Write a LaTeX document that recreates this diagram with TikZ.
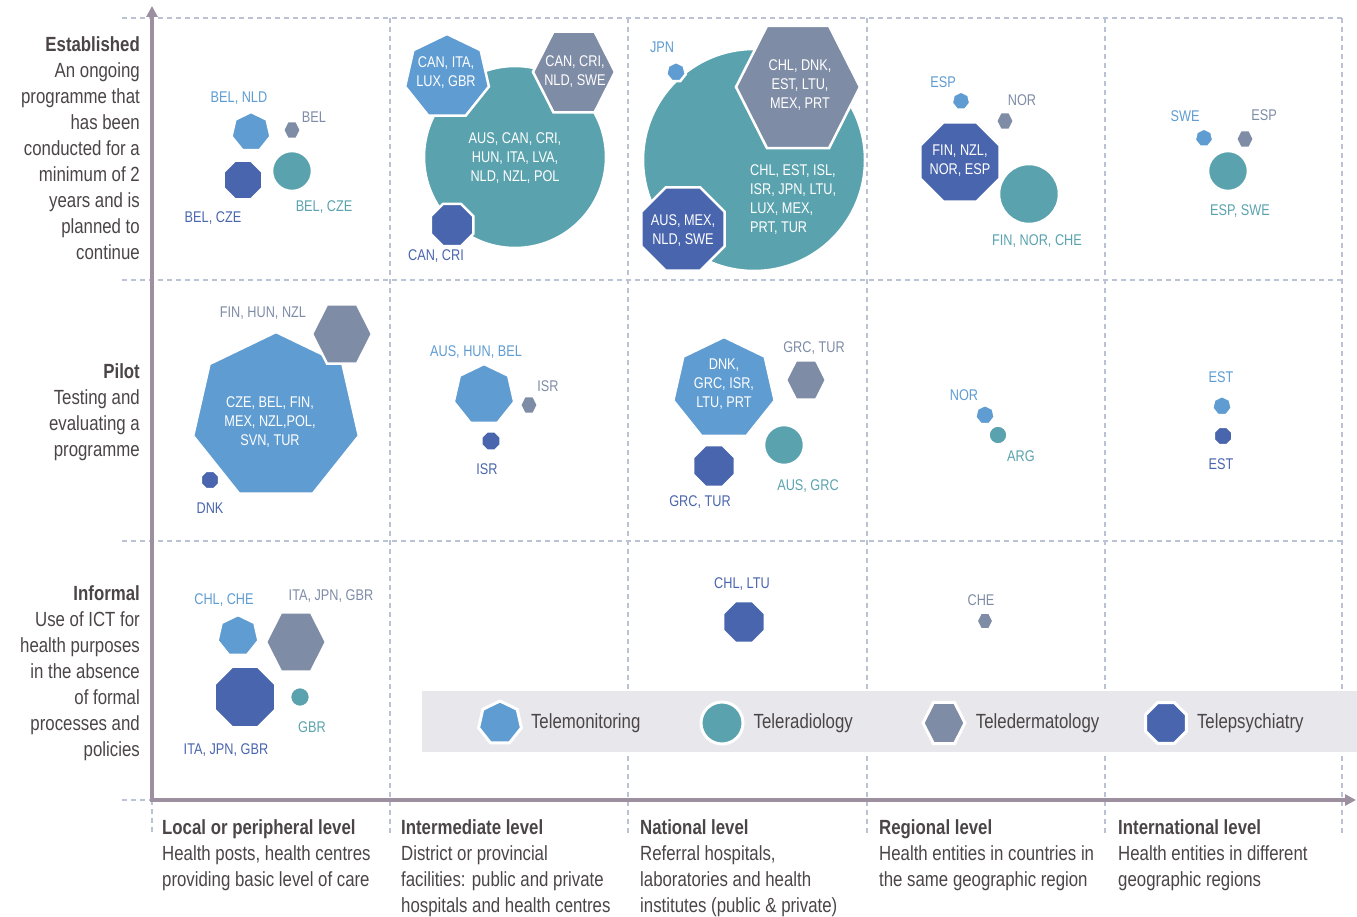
\documentclass[tikz,border=0pt]{standalone}
\usepackage{fontspec}
\setmainfont{Liberation Sans}[FakeStretch=0.82]
\usetikzlibrary{shapes.geometric,arrows.meta,positioning}

\definecolor{moncol}{HTML}{5F9CD2}
\definecolor{radcol}{HTML}{5AA3AE}
\definecolor{dercol}{HTML}{7F8CA6}
\definecolor{psycol}{HTML}{4965AE}
\definecolor{axiscol}{HTML}{9C8FA0}
\definecolor{gridcol}{HTML}{BBC2D4}
\definecolor{txtcol}{HTML}{4B4548}
\definecolor{legbg}{HTML}{E8E7EB}

\newcommand{\ctyfont}{\fontsize{15.5}{19}\selectfont}
\newcommand{\descfont}{\fontsize{20.5}{26}\selectfont}

\tikzset{
  shp/.style = {draw=white, line width=2.5pt, inner sep=0pt},
  mon/.style = {shp, regular polygon, regular polygon sides=7, fill=moncol},
  rad/.style = {shp, circle, fill=radcol},
  der/.style = {shp, regular polygon, regular polygon sides=6, fill=dercol, yscale=1.14, transform shape},
  psy/.style = {shp, regular polygon, regular polygon sides=8, fill=psycol},
  lab/.style = {font=\ctyfont, inner sep=0pt},
  inner/.style = {font=\ctyfont, text=white, align=center, inner sep=0pt},
  grid/.style = {draw=gridcol, line width=1.2pt, dash pattern=on 5pt off 4pt},
  axis/.style = {draw=axiscol, line width=3.5pt,
    {Triangle[length=11pt,width=11pt]}-{Triangle[length=11pt,width=11pt]}},
  rowtxt/.style = {font=\descfont, text=txtcol, align=right, anchor=north east, inner sep=0pt},
  coltxt/.style = {font=\descfont, text=txtcol, align=left, anchor=north west, inner sep=0pt},
  legtxt/.style = {font=\descfont, text=txtcol, inner sep=0pt}
}

\begin{document}
\begin{tikzpicture}[x=1pt, y=-1pt]
\useasboundingbox (0,0) rectangle (1357,917);

% dashed grid
\draw[grid] (122,18) -- (1342,18);
\draw[grid] (122,280) -- (1342,280);
\draw[grid] (122,541) -- (1342,541);
\draw[grid] (122,800) -- (152,800);
\draw[grid] (152,800) -- (152,835);
\draw[grid] (390,18) -- (390,835);
\draw[grid] (628,18) -- (628,835);
\draw[grid] (867,18) -- (867,835);
\draw[grid] (1105,18) -- (1105,835);
\draw[grid] (1342,18) -- (1342,835);

% axes
\coordinate (org) at (152,800);
\coordinate (ytop) at (152,6);
\coordinate (xend) at (1356,800);
\draw[axis] (ytop) -- (org) -- (xend);

% row descriptions
\node[rowtxt] (r1) at (140,36.5) {\textbf{Established}\\An ongoing\\programme that\\has been\\conducted for a\\minimum of 2\\years and is\\planned to\\continue};
\node[rowtxt] (r2) at (140,363.5) {\textbf{Pilot}\\Testing and\\evaluating a\\programme};
\node[rowtxt] (r3) at (140,585.5) {\textbf{Informal}\\Use of ICT for\\health purposes\\in the absence\\of formal\\processes and\\policies};

% column descriptions
\node[coltxt] (c1) at (162,819.5) {\textbf{Local or peripheral level}\\Health posts, health centres\\providing basic level of care};
\node[coltxt] (c2) at (401,819.5) {\textbf{Intermediate level}\\District or provincial\\facilities: public and private\\hospitals and health centres};
\node[coltxt] (c3) at (640,819.5) {\textbf{National level}\\Referral hospitals,\\laboratories and health\\institutes (public \& private)};
\node[coltxt] (c4) at (879,819.5) {\textbf{Regional level}\\Health entities in countries in\\the same geographic region};
\node[coltxt] (c5) at (1118,819.5) {\textbf{International level}\\Health entities in different\\geographic regions};

% established
\node[rad, minimum size=40] (e1r) at (292,171) {};
\node[mon, minimum size=40] (e1m) at (251,132) {};
\node[der, minimum size=18] (e1d) at (292,130) {};
\node[psy, minimum size=42] (e1p) at (243,180) {};
\node[lab, text=moncol] (e1m-t) at (239,98) {BEL, NLD};
\node[lab, text=dercol] (e1d-t) at (314,117) {BEL};
\node[lab, text=psycol] (e1p-t) at (213,218) {BEL, CZE};
\node[lab, text=radcol] (e1r-t) at (324,207) {BEL, CZE};

\node[rad, minimum size=182] (e2r) at (515,157) {};
\node[mon, minimum size=86] (e2m) at (447,77) {};
\node[der, minimum size=82] (e2d) at (574,72) {};
\node[psy, minimum size=46] (e2p) at (452,225) {};
\node[inner] (e2r-t) at (515,158) {AUS, CAN, CRI,\\HUN, ITA, LVA,\\NLD, NZL, POL};
\node[inner] (e2m-t) at (446,73) {CAN, ITA,\\LUX, GBR};
\node[inner] (e2d-t) at (575,72) {CAN, CRI,\\NLD, SWE};
\node[lab, text=psycol] (e2p-t) at (436,256) {CAN, CRI};

\node[rad, minimum size=222] (e3r) at (754,160) {};
\node[der, minimum size=124] (e3d) at (798,87) {};
\node[psy, minimum size=90] (e3p) at (683,229) {};
\node[mon, minimum size=20] (e3m) at (676,72) {};
\node[inner, align=left, anchor=west] (e3r-t) at (750,200) {CHL, EST, ISL,\\ISR, JPN, LTU,\\LUX, MEX,\\PRT, TUR};
\node[inner] (e3d-t) at (800,85) {CHL, DNK,\\EST, LTU,\\MEX, PRT};
\node[inner] (e3p-t) at (683,231) {AUS, MEX,\\NLD, SWE};
\node[lab, text=moncol] (e3m-t) at (662,47) {JPN};

\node[rad, minimum size=60] (e4r) at (1029,194) {};
\node[psy, minimum size=86] (e4p) at (960,162) {};
\node[mon, minimum size=19] (e4m) at (961,101) {};
\node[der, minimum size=18] (e4d) at (1005,121) {};
\node[inner] (e4p-t) at (960,161) {FIN, NZL,\\NOR, ESP};
\node[lab, text=moncol] (e4m-t) at (943,82) {ESP};
\node[lab, text=dercol] (e4d-t) at (1022,100) {NOR};
\node[lab, text=radcol] (e4r-t) at (1037,241) {FIN, NOR, CHE};

\node[rad, minimum size=40] (e5r) at (1228,171) {};
\node[mon, minimum size=19] (e5m) at (1204,138) {};
\node[der, minimum size=18] (e5d) at (1245,139) {};
\node[lab, text=moncol] (e5m-t) at (1185,116) {SWE};
\node[lab, text=dercol] (e5d-t) at (1264,115) {ESP};
\node[lab, text=radcol] (e5r-t) at (1240,211) {ESP, SWE};

% pilot
\node[mon, minimum size=170] (p1m) at (276,417) {};
\node[der, minimum size=60] (p1d) at (342,334) {};
\node[psy, minimum size=20] (p1p) at (210,480) {};
\node[inner] (p1m-t) at (270,422) {CZE, BEL, FIN,\\MEX, NZL,POL,\\SVN, TUR};
\node[lab, text=dercol] (p1d-t) at (263,313) {FIN, HUN, NZL};
\node[lab, text=psycol] (p1p-t) at (210,508) {DNK};

\node[mon, minimum size=62] (p2m) at (484,395) {};
\node[der, minimum size=18] (p2d) at (529,405) {};
\node[psy, minimum size=21] (p2p) at (491,441) {};
\node[lab, text=moncol] (p2m-t) at (476,352) {AUS, HUN, BEL};
\node[lab, text=dercol] (p2d-t) at (548,386) {ISR};
\node[lab, text=psycol] (p2p-t) at (487,469) {ISR};

\node[mon, minimum size=104] (p3m) at (724,389) {};
\node[der, minimum size=40] (p3d) at (806,380) {};
\node[rad, minimum size=40] (p3r) at (784,445) {};
\node[psy, minimum size=45] (p3p) at (714,466) {};
\node[inner] (p3m-t) at (724,384) {DNK,\\GRC, ISR,\\LTU, PRT};
\node[lab, text=dercol] (p3d-t) at (814,348) {GRC, TUR};
\node[lab, text=radcol] (p3r-t) at (808,486) {AUS, GRC};
\node[lab, text=psycol] (p3p-t) at (700,502) {GRC, TUR};

\node[mon, minimum size=20] (p4m) at (985,415) {};
\node[rad, minimum size=19] (p4r) at (998,435) {};
\node[lab, text=moncol] (p4m-t) at (964,395) {NOR};
\node[lab, text=radcol] (p4r-t) at (1021,456) {ARG};

\node[mon, minimum size=20] (p5m) at (1222,406) {};
\node[psy, minimum size=20] (p5p) at (1223,436) {};
\node[lab, text=moncol] (p5m-t) at (1221,377) {EST};
\node[lab, text=psycol] (p5p-t) at (1221,464) {EST};

% informal
\node[mon, minimum size=42] (i1m) at (238,636) {};
\node[der, minimum size=60] (i1d) at (296,642) {};
\node[psy, minimum size=66] (i1p) at (245,697) {};
\node[rad, minimum size=20] (i1r) at (300,697) {};
\node[lab, text=moncol] (i1m-t) at (224,600) {CHL, CHE};
\node[lab, text=dercol] (i1d-t) at (331,596) {ITA, JPN, GBR};
\node[lab, text=radcol] (i1r-t) at (312,727) {GBR};
\node[lab, text=psycol] (i1p-t) at (226,750) {ITA, JPN, GBR};

\node[psy, minimum size=45] (i3p) at (744,622) {};
\node[lab, text=psycol] (i3p-t) at (742,584) {CHL, LTU};

\node[der, minimum size=17] (i4d) at (985,621) {};
\node[lab, text=dercol] (i4d-t) at (981,600) {CHE};

% legend
\node[fill=legbg, minimum width=935, minimum height=61, anchor=north west, inner sep=0pt] (leg) at (422,691) {};
\node[mon, minimum size=44, line width=3pt] (leg-m) at (500,723) {};
\node[legtxt, right=9pt of leg-m] (leg-m-t) {Telemonitoring};
\node[rad, minimum size=42, line width=3pt] (leg-r) at (722,723) {};
\node[legtxt, right=9pt of leg-r] (leg-r-t) {Teleradiology};
\node[der, minimum size=42, line width=3pt] (leg-d) at (944,723) {};
\node[legtxt, right=9pt of leg-d] (leg-d-t) {Teledermatology};
\node[psy, minimum size=44, line width=3pt] (leg-p) at (1166,723) {};
\node[legtxt, right=9pt of leg-p] (leg-p-t) {Telepsychiatry};
\end{tikzpicture}
\end{document}
